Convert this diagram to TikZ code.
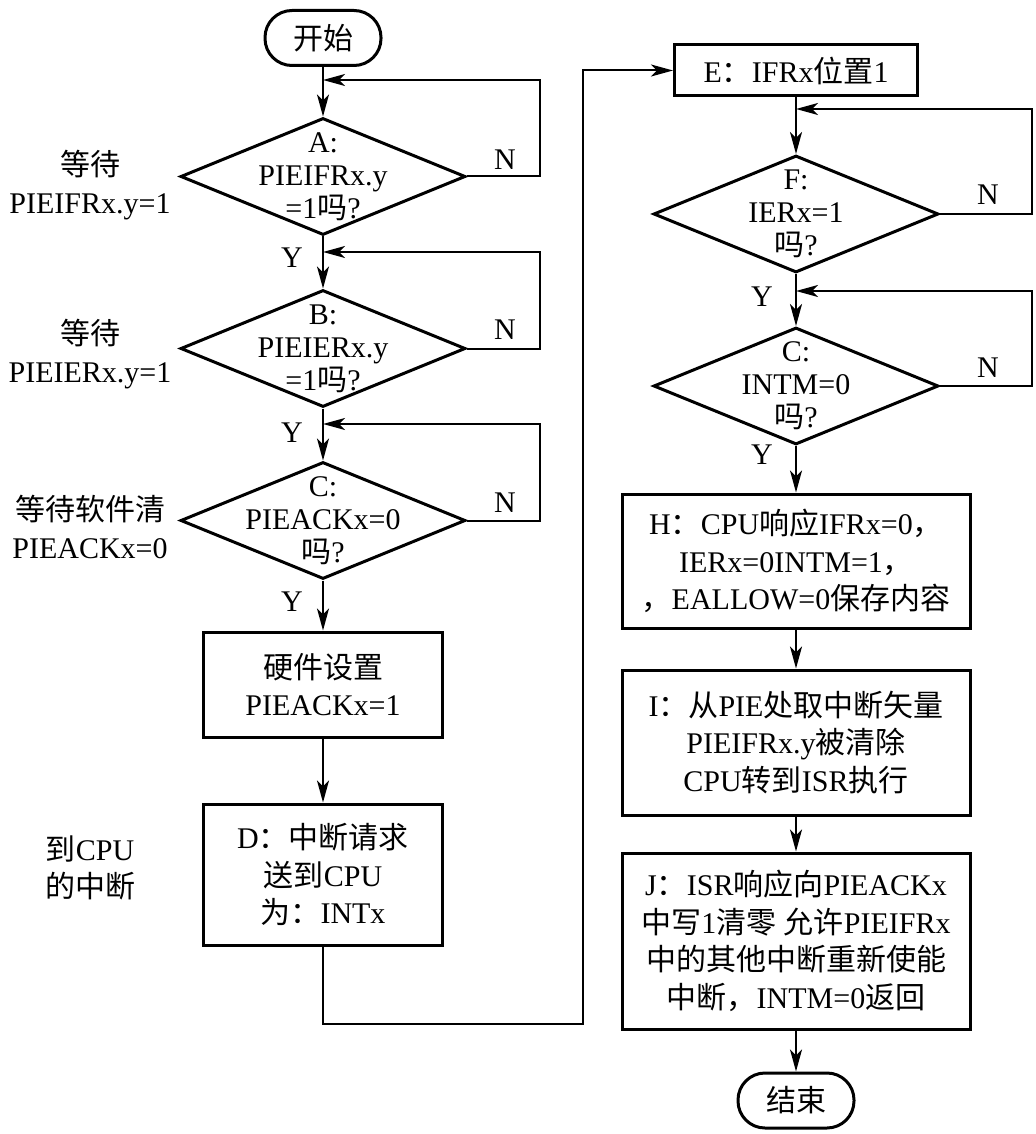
\documentclass[tikz,border=0pt]{standalone}
\usepackage{fontspec}
\setmainfont{Liberation Serif}
\newfontfamily\cjk{Noto Sans CJK SC}
\newcommand{\zh}[1]{{\cjk #1}}
\usetikzlibrary{shapes.geometric, arrows.meta}

\begin{document}
\begin{tikzpicture}[
    x=0.5pt, y=-0.5pt,
    font=\fontsize{15}{18.75}\selectfont,
    terminal/.style={rectangle, draw, line width=1.5pt, rounded corners=13.5pt, minimum width=58pt, minimum height=27.5pt, inner sep=0pt},
    procbox/.style={rectangle, draw, line width=1.5pt, align=center, inner sep=0pt},
    decision/.style={diamond, draw, line width=1.5pt, minimum width=142.5pt, minimum height=58.5pt, inner sep=0pt},
    dtext/.style={align=center, font=\fontsize{15}{16.5}\selectfont, inner sep=0pt},
    side/.style={align=center},
    arrow/.style={-{Stealth[length=11pt,width=6pt,inset=3pt]}, line width=1pt},
    conn/.style={line width=1pt}
]
\useasboundingbox (0,0) rectangle (1036,1134);

% Left column
\node[terminal] (start) at (323,38) {\zh{开始}};
\node[decision, label={[dtext]center:{A:\\PIEIFRx.y\\=1\zh{吗}?}}] (decA) at (323,176.5) {};
\node[decision, label={[dtext]center:{B:\\PIEIERx.y\\=1\zh{吗}?}}] (decB) at (323,348.5) {};
\node[decision, label={[dtext]center:{C:\\PIEACKx=0\\\zh{吗}?}}] (decC) at (323,520.5) {};
\node[procbox, minimum width=119.5pt, minimum height=52.5pt] (hwset) at (323,684.5) {\zh{硬件设置}\\PIEACKx=1};
\node[procbox, minimum width=119.5pt, minimum height=70.5pt] (boxD) at (323,874.5) {D\zh{：中断请求}\\\zh{送到}CPU\\\zh{为：}INTx};

% Right column
\node[procbox, minimum width=121.5pt, minimum height=25.5pt] (boxE) at (796,70.5) {E\zh{：}IFRx\zh{位置}1};
\node[decision, label={[dtext]center:{F:\\IERx=1\\\zh{吗}?}}] (decF) at (796,214) {};
\node[decision, label={[dtext]center:{C:\\INTM=0\\\zh{吗}?}}] (decG) at (796,386) {};
\node[procbox, minimum width=174pt, minimum height=67pt] (boxH) at (796,561) {H\zh{：}CPU\zh{响应}IFRx=0\zh{，}\\IERx=0INTM=1\zh{，}\\\zh{，}EALLOW=0\zh{保存内容}};
\node[procbox, minimum width=174pt, minimum height=72.5pt] (boxI) at (796,742.5) {I\zh{：从}PIE\zh{处取中断矢量}\\PIEIFRx.y\zh{被清除}\\CPU\zh{转到}ISR\zh{执行}};
\node[procbox, minimum width=174pt, minimum height=88pt] (boxJ) at (796,941) {J\zh{：}ISR\zh{响应向}PIEACKx\\\zh{中写}1\zh{清零} \zh{允许}PIEIFRx\\\zh{中的其他中断重新使能}\\\zh{中断，}INTM=0\zh{返回}};
\node[terminal] (stop) at (796,1100.5) {\zh{结束}};

% Loop points
\coordinate (retA) at (323,80);
\coordinate (cnrA) at (540,80);
\coordinate (retB) at (323,252);
\coordinate (cnrB) at (540,252);
\coordinate (retC) at (323,424);
\coordinate (cnrC) at (540,424);
\coordinate (retF) at (796,109);
\coordinate (cnrF) at (1032,109);
\coordinate (retG) at (796,291);
\coordinate (cnrG) at (1032,291);
\coordinate (lowL) at (583,1024);

% Arrows
\draw[arrow] (start) -- (decA);
\draw[arrow] (decA) -- (decB);
\draw[arrow] (decB) -- (decC);
\draw[arrow] (decC) -- (hwset);
\draw[arrow] (hwset) -- (boxD);
\draw[arrow] (decA.east) -| (cnrA) -- (retA);
\draw[arrow] (decB.east) -| (cnrB) -- (retB);
\draw[arrow] (decC.east) -| (cnrC) -- (retC);
\draw[arrow] (boxD.south) |- (lowL) |- (boxE.west);
\draw[arrow] (boxE) -- (decF);
\draw[arrow] (decF) -- (decG);
\draw[arrow] (decG) -- (boxH);
\draw[arrow] (boxH) -- (boxI);
\draw[arrow] (boxI) -- (boxJ);
\draw[arrow] (boxJ) -- (stop);
\draw[arrow] (decF.east) -| (cnrF) -- (retF);
\draw[arrow] (decG.east) -| (cnrG) -- (retG);

% Labels
\node (nA) at (505,160) {N};
\node (nB) at (505,330) {N};
\node (nC) at (505,503) {N};
\node (yA) at (292,258) {Y};
\node (yB) at (292,433) {Y};
\node (yC) at (292,602) {Y};
\node (nF) at (988,195) {N};
\node (nG) at (988,368) {N};
\node (yF) at (762,297) {Y};
\node (yG) at (762,455) {Y};
\node[side] (waitA) at (90,185) {\zh{等待}\\PIEIFRx.y=1};
\node[side] (waitB) at (90,354) {\zh{等待}\\PIEIERx.y=1};
\node[side] (waitC) at (90,527) {\zh{等待软件清}\\PIEACKx=0};
\node[side] (tocpu) at (90,868) {\zh{到}CPU\\\zh{的中断}};

\end{tikzpicture}
\end{document}
